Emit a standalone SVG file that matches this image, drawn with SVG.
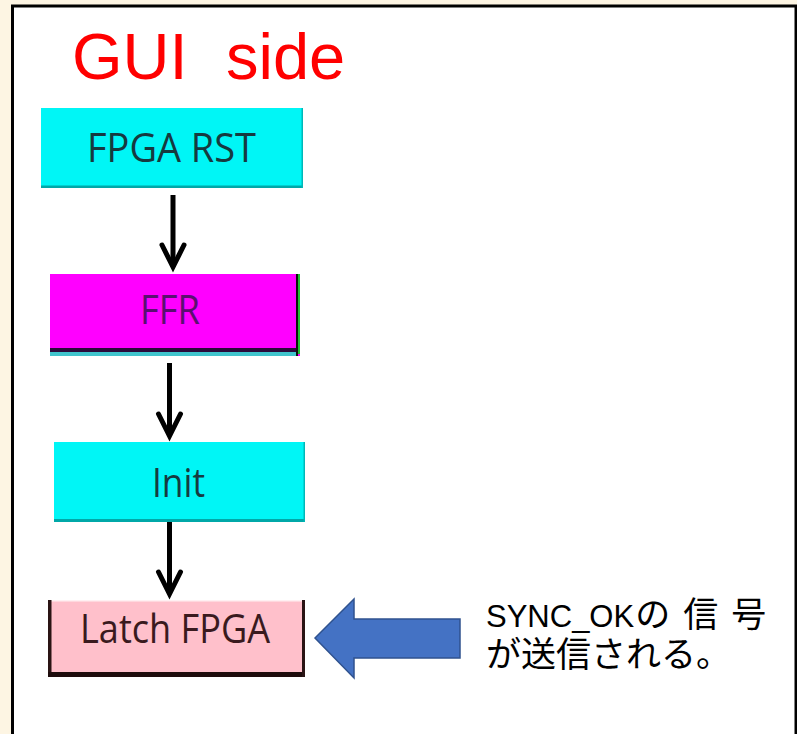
<svg xmlns="http://www.w3.org/2000/svg" width="797" height="734" viewBox="0 0 797 734">
<style>
.btn{font-family:"Open Sans","Noto Sans","DejaVu Sans",sans-serif;font-size:41px;}
.note{font-family:"Liberation Sans","Noto Sans CJK JP",sans-serif;fill:#000;}
.cjk{font-family:"Noto Sans CJK JP","Liberation Sans",sans-serif;font-size:35px;}
.conn{stroke:#000;stroke-width:5;fill:none;}
</style>
<defs>
<marker id="head" markerUnits="userSpaceOnUse" orient="auto" refX="0" refY="0" markerWidth="40" markerHeight="40" viewBox="-30 -20 40 40" overflow="visible">
<path d="M-22,-11 L0,0 L-22,11" fill="none" stroke="#000" stroke-width="5" stroke-linejoin="miter" stroke-linecap="round"/>
</marker>
</defs>
<rect x="0" y="0" width="797" height="734" fill="#fdf5e3"/>
<rect x="12.5" y="6" width="783.5" height="740" fill="#fff" stroke="#000" stroke-width="3"/>
<text x="72" y="79" font-family="Liberation Sans, Arial, sans-serif" font-size="65" fill="#ff0000">GUI<tspan x="226">side</tspan></text>

<g id="node-fpga-rst">
<rect x="41" y="108" width="262" height="80" fill="#00f6f6"/>
<rect x="41" y="185.5" width="262" height="2.5" fill="#00a8a8"/>
<rect x="301.5" y="108" width="1.5" height="80" fill="#00b8b8"/>
<text class="btn" x="87" y="162" textLength="169" lengthAdjust="spacingAndGlyphs" fill="#163a40">FPGA RST</text>
</g>

<g id="node-ffr">
<rect x="50" y="274" width="250" height="82" fill="#ff00ff"/>
<rect x="50" y="348" width="248" height="4" fill="#2a0a3a"/>
<rect x="50" y="352" width="248" height="4" fill="#40c4cc"/>
<rect x="296" y="274" width="2" height="82" fill="#101010"/>
<rect x="298" y="274" width="2" height="80" fill="#20c030"/>
<text class="btn" x="140" y="324" textLength="60" lengthAdjust="spacingAndGlyphs" fill="#5a1070">FFR</text>
</g>

<g id="node-init">
<rect x="54" y="442" width="251" height="80" fill="#00f6f6"/>
<rect x="54" y="519" width="251" height="3" fill="#00a8a8"/>
<rect x="303.5" y="442" width="1.5" height="80" fill="#00b8b8"/>
<text class="btn" x="152" y="497" textLength="53" lengthAdjust="spacingAndGlyphs" fill="#163a40">Init</text>
</g>

<g id="node-latch">
<rect x="48" y="600" width="257" height="77" fill="#ffc0cb"/>
<rect x="48" y="600" width="257" height="1.5" fill="#fff0f2"/>
<rect x="48" y="600" width="3.5" height="77" fill="#2a1414"/>
<rect x="48" y="672" width="257" height="5" fill="#1e0c0c"/>
<rect x="302" y="600" width="3" height="77" fill="#2a1414"/>
<text class="btn" x="80" y="643" textLength="190" lengthAdjust="spacingAndGlyphs" fill="#3a1a1e">Latch FPGA</text>
</g>

<g id="connectors">
<path class="conn" d="M173,195 L173,267" marker-end="url(#head)"/>
<path class="conn" d="M169.5,363 L169.5,436" marker-end="url(#head)"/>
<path class="conn" d="M169.5,522 L169.5,594" marker-end="url(#head)"/>
</g>

<g id="sync-arrow">
<polygon points="315,638 354,599 354,619 460,619 460,658 354,658 354,678" fill="#4472c4" stroke="#2f528f" stroke-width="1.5"/>
</g>

<g id="note">
<text class="note" x="486" y="627" font-size="31">SYNC_OK<tspan class="cjk" dx="1" letter-spacing="13">の信号</tspan></text>
<text class="note cjk" x="486" y="667">が送信される。</text>
</g>
</svg>
